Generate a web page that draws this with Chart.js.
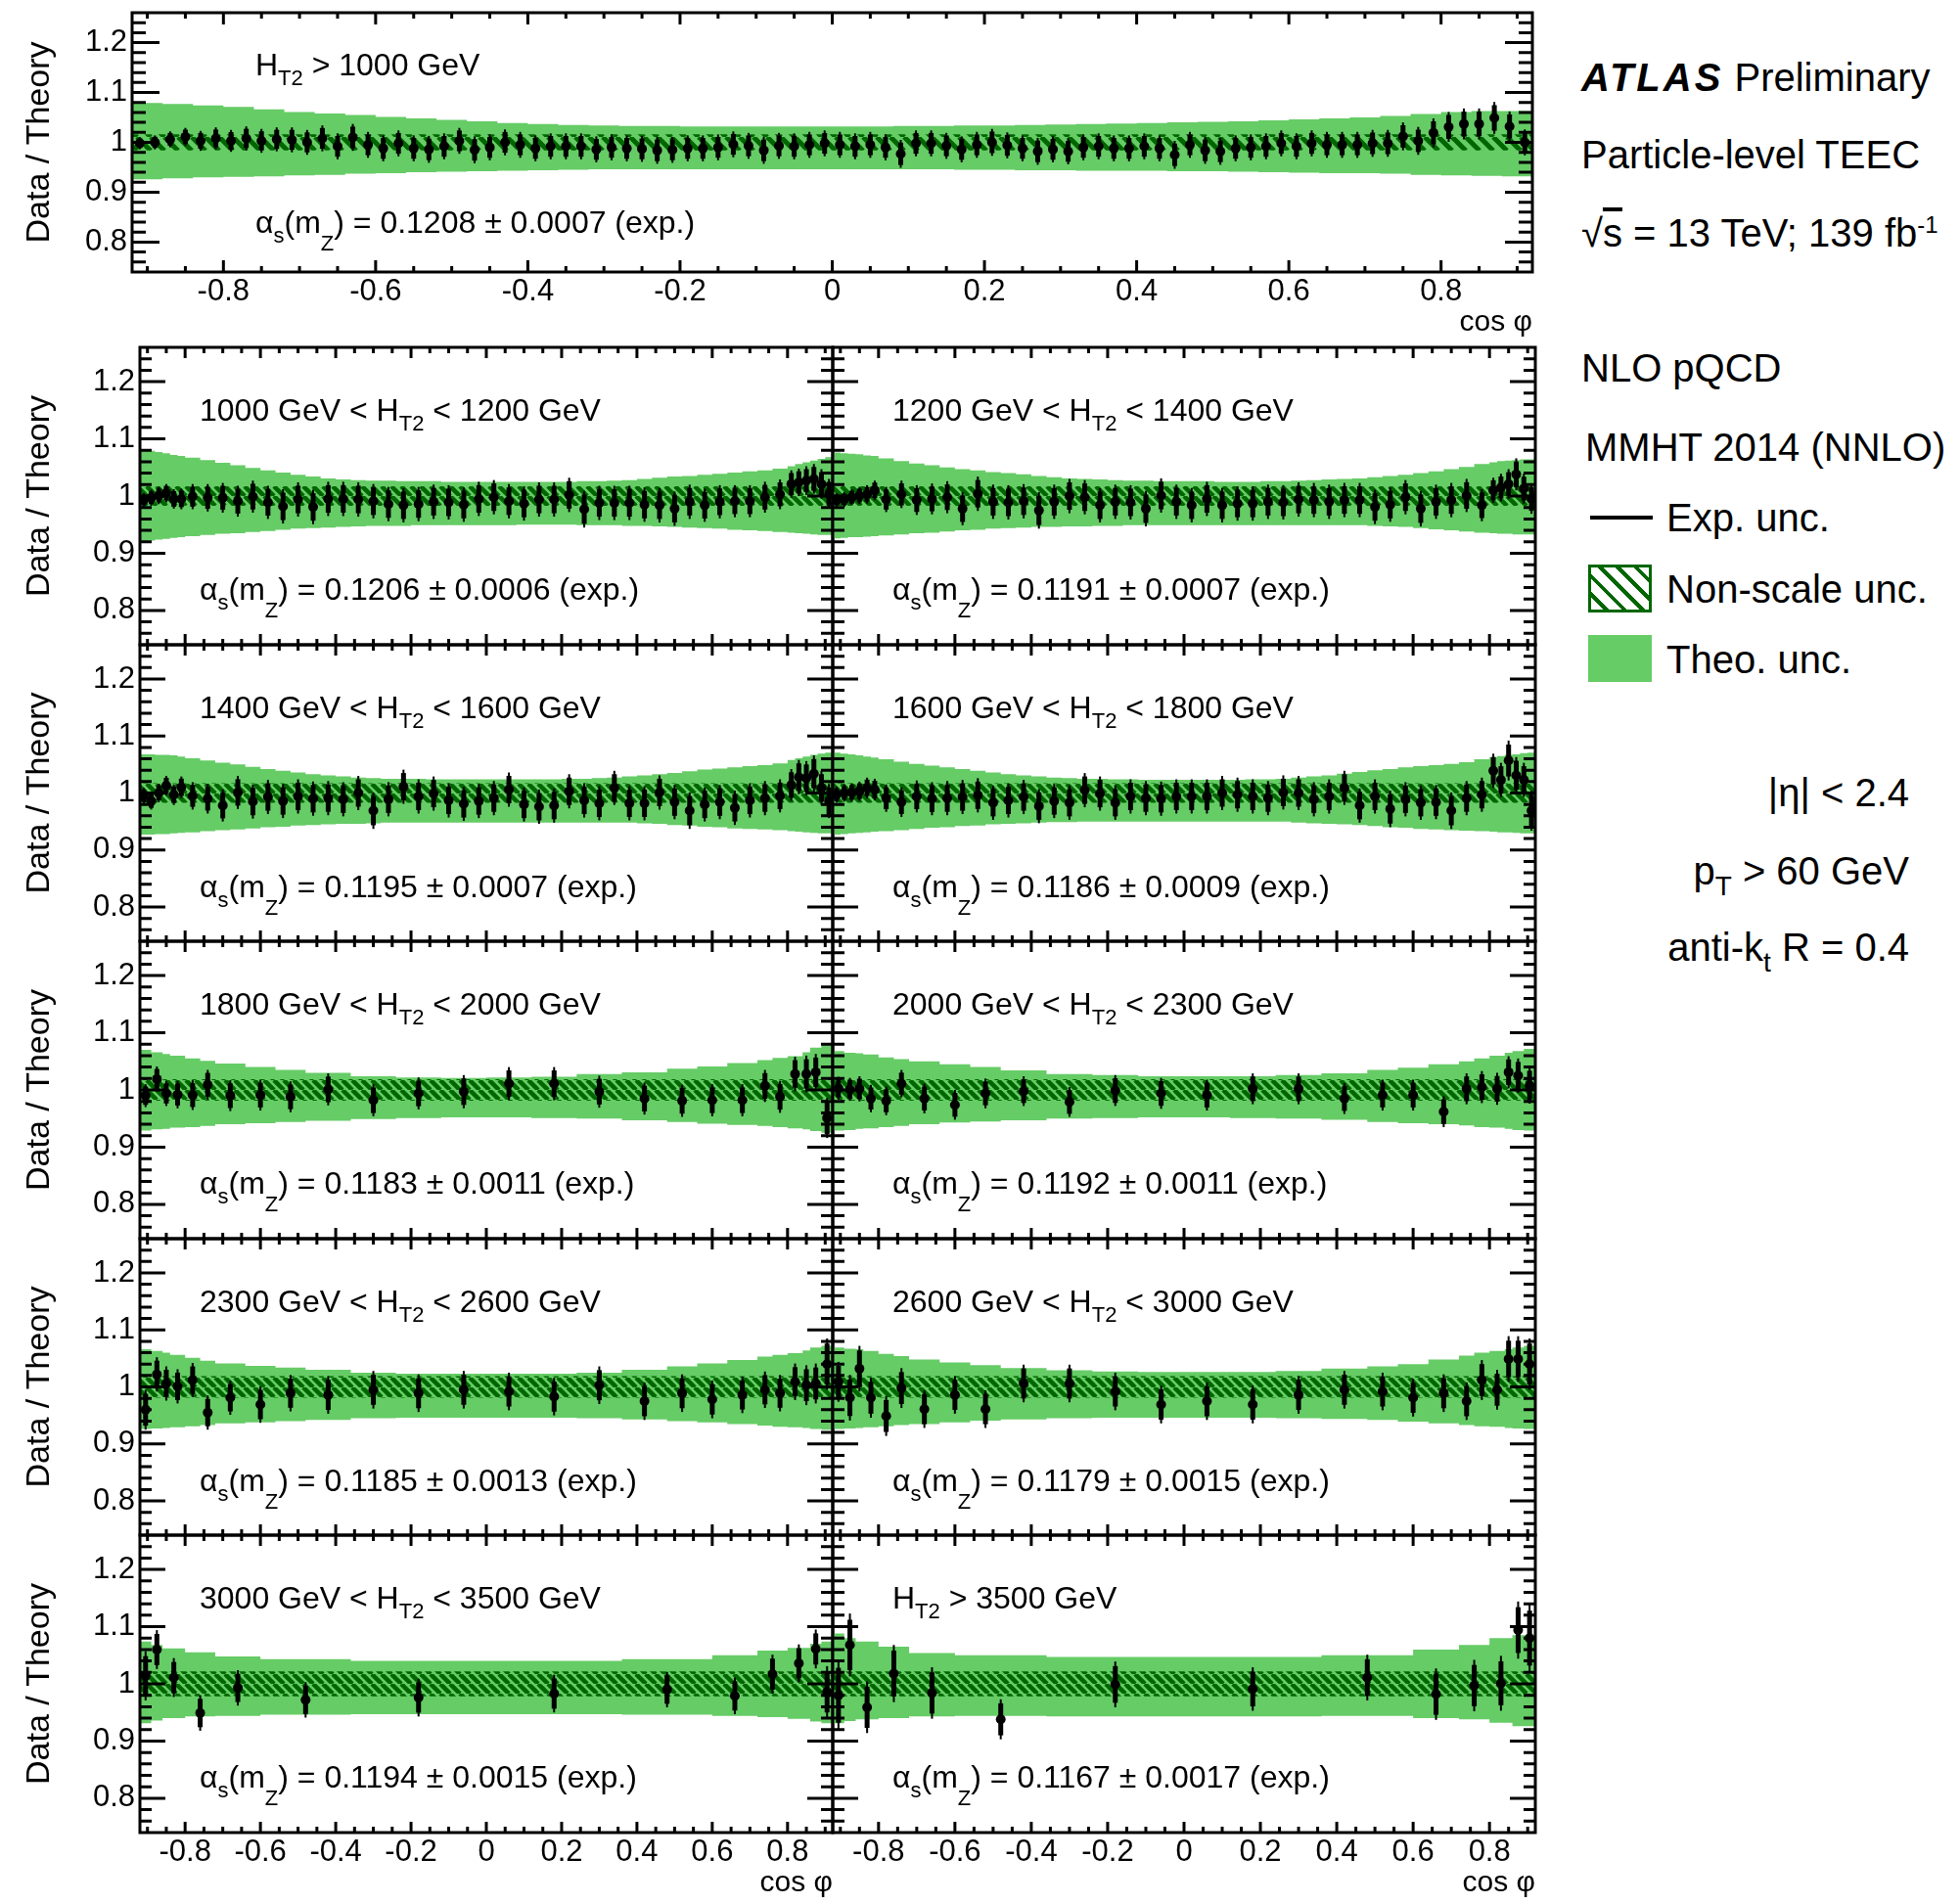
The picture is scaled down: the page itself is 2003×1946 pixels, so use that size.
<!DOCTYPE html>
<html>
<head>
<meta charset="utf-8">
<script src="https://cdn.jsdelivr.net/npm/chart.js@4.4.0/dist/chart.umd.min.js"></script>
<style>
  html, body { margin: 0; padding: 0; background: #fff; }
  body { width: 2003px; height: 1946px; position: relative; overflow: hidden;
         font-family: 'Liberation Sans', Arial, Helvetica, sans-serif; }
  canvas { position: absolute; }
  .txt { position: absolute; font-size: 40px; line-height: 40px; white-space: nowrap; color: #000; }
  .txt sub { font-size: 0.7em; vertical-align: -0.4em; line-height: 0; }
  .txt sup { font-size: 0.6em; vertical-align: 0.6em; line-height: 0; }
  .right { text-align: right; }
</style>
</head>
<body>

<div class="txt" style="left:1616px;top:59px"><b><i style="letter-spacing:3px">ATLAS</i></b> Preliminary</div>
<div class="txt" style="left:1616px;top:138px">Particle-level TEEC</div>
<div class="txt" style="left:1616px;top:218px">&radic;<span style="text-decoration:overline">s</span> = 13 TeV; 139 fb<sup>-1</sup></div>
<div class="txt" style="left:1616px;top:356px">NLO pQCD</div>
<div class="txt" style="left:1620px;top:437px">MMHT 2014 (NNLO)</div>

<div style="position:absolute;left:1625px;top:527px;width:64px;height:4px;background:#000"></div>
<div class="txt" style="left:1703px;top:509px">Exp. unc.</div>
<div style="position:absolute;left:1623px;top:577px;width:59px;height:43px;border:3px solid #006600;
  background:repeating-linear-gradient(45deg,#fff 0 9px,#006600 9px 13px)"></div>
<div class="txt" style="left:1703px;top:582px">Non-scale unc.</div>
<div style="position:absolute;left:1623px;top:649px;width:65px;height:48px;background:#66cc66"></div>
<div class="txt" style="left:1703px;top:654px">Theo. unc.</div>

<div class="txt right" style="right:52px;top:790px">|&eta;| &lt; 2.4</div>
<div class="txt right" style="right:52px;top:870px">p<sub>T</sub> &gt; 60 GeV</div>
<div class="txt right" style="right:52px;top:948px">anti-k<sub>t</sub> R = 0.4</div>

<script>
// axis ticks (labels)
const xTicks = [-0.8, -0.6, -0.4, -0.2, 0, 0.2, 0.4, 0.6, 0.8];
const yTicks = [0.8, 0.9, 1, 1.1, 1.2];

// cos phi bin edges
const edgesTop = [-0.92,-0.90,-0.88,-0.86,-0.84,-0.82,-0.80,-0.78,-0.76,-0.74,-0.72,-0.70,-0.68,-0.66,-0.64,-0.62,
  -0.60,-0.58,-0.56,-0.54,-0.52,-0.50,-0.48,-0.46,-0.44,-0.42,-0.40,-0.38,-0.36,-0.34,-0.32,-0.30,-0.28,-0.26,
  -0.24,-0.22,-0.20,-0.18,-0.16,-0.14,-0.12,-0.10,-0.08,-0.06,-0.04,-0.02,0,0.02,0.04,0.06,0.08,0.10,0.12,0.14,
  0.16,0.18,0.20,0.22,0.24,0.26,0.28,0.30,0.32,0.34,0.36,0.38,0.40,0.42,0.44,0.46,0.48,0.50,0.52,0.54,0.56,0.58,
  0.60,0.62,0.64,0.66,0.68,0.70,0.72,0.74,0.76,0.78,0.80,0.82,0.84,0.86,0.88,0.90,0.92];
const edgesTopBand = [-0.92,-0.88,-0.84,-0.80,-0.76,-0.72,-0.68,-0.64,-0.60,-0.56,-0.52,-0.48,-0.44,-0.40,-0.36,
  -0.32,-0.28,-0.24,-0.20,-0.16,-0.12,-0.08,-0.04,0,0.04,0.08,0.12,0.16,0.20,0.24,0.28,0.32,0.36,0.40,0.44,0.48,
  0.52,0.56,0.60,0.64,0.68,0.72,0.76,0.80,0.84,0.88,0.92];
const edgesFine = [-0.92,-0.90,-0.88,-0.86,-0.84,-0.82,-0.80,-0.76,-0.72,-0.68,-0.64,-0.60,-0.56,-0.52,-0.48,-0.44,
  -0.40,-0.36,-0.32,-0.28,-0.24,-0.20,-0.16,-0.12,-0.08,-0.04,0,0.04,0.08,0.12,0.16,0.20,0.24,0.28,0.32,0.36,0.40,
  0.44,0.48,0.52,0.56,0.60,0.64,0.68,0.72,0.76,0.80,0.82,0.84,0.86,0.88,0.90,0.92];
const edgesMid = [-0.92,-0.89,-0.86,-0.84,-0.80,-0.76,-0.72,-0.64,-0.56,-0.48,-0.36,-0.24,-0.12,0,
  0.12,0.24,0.36,0.48,0.56,0.64,0.72,0.76,0.80,0.84,0.86,0.89,0.92];
const edgesCoarse = [-0.92,-0.89,-0.86,-0.80,-0.72,-0.60,-0.36,0,0.36,0.60,0.72,0.80,0.86,0.89,0.92];

// HT2 > 1000 GeV
const ratioIncl = [0.998,1.000,1.006,1.011,1.003,1.008,1.003,1.008,1.003,1.006,1.005,1.000,1.008,0.992,1.010,0.995,
  0.988,0.998,0.988,0.986,0.992,1.003,0.985,0.990,1.000,0.995,0.988,0.992,0.992,0.992,0.986,0.990,0.988,0.987,0.984,0.985,
  0.988,0.988,0.990,0.996,0.993,0.984,0.993,0.992,0.995,0.998,
  0.995,0.992,0.995,0.990,0.977,0.998,0.998,0.993,0.986,0.995,
  1.000,0.994,0.988,0.982,0.986,0.982,0.990,0.992,0.988,0.988,
  0.992,0.988,0.975,0.995,0.984,0.982,0.988,0.990,0.992,0.998,
  0.992,0.998,0.995,0.995,0.995,0.998,0.998,1.012,1.003,1.019,
  1.031,1.037,1.037,1.049,1.032,1.000];
const errIncl = [0.012,0.014,0.016,0.018,0.020,0.022,0.022,0.024,0.024,0.024,0.025,0.025,0.026,0.026,0.027,0.026,
  0.026,0.026,0.026,0.027,0.026,0.026,0.027,0.026,0.026,0.026,0.026,0.026,0.026,0.026,0.026,0.026,0.026,0.026,0.027,0.026,
  0.026,0.026,0.026,0.026,0.026,0.027,0.026,0.026,0.026,0.026,
  0.026,0.026,0.026,0.026,0.028,0.026,0.026,0.026,0.026,0.026,
  0.027,0.026,0.026,0.027,0.026,0.026,0.026,0.026,0.026,0.026,
  0.026,0.026,0.028,0.026,0.027,0.027,0.026,0.026,0.026,0.026,
  0.026,0.026,0.026,0.026,0.026,0.027,0.027,0.028,0.028,0.029,
  0.030,0.031,0.031,0.032,0.030,0.026];
const upIncl = [1.079,1.077,1.074,1.071,1.066,1.061,1.058,1.055,1.051,1.048,1.045,1.042,1.039,1.037,1.035,1.034,
  1.033,1.033,1.032,1.032,1.032,1.032,1.032,1.032,1.032,1.033,1.033,1.034,1.034,1.035,1.036,1.037,1.038,1.039,
  1.040,1.041,1.042,1.044,1.046,1.048,1.050,1.053,1.057,1.061,1.063,1.063];
const dnIncl = [0.926,0.928,0.930,0.931,0.932,0.934,0.935,0.937,0.938,0.940,0.941,0.942,0.943,0.944,0.945,0.946,
  0.946,0.946,0.946,0.946,0.946,0.946,0.946,0.946,0.946,0.946,0.946,0.945,0.945,0.944,0.944,0.943,0.943,0.943,
  0.942,0.942,0.941,0.940,0.939,0.938,0.938,0.937,0.935,0.934,0.933,0.932];

// 1000 GeV < HT2 < 1200 GeV
const ratio1000 = [0.993,0.997,1.001,1.005,0.995,0.995,
  0.999,0.997,0.997,0.991,0.999,0.989,0.982,0.994,0.981,0.995,
  0.995,0.994,0.991,0.986,0.984,0.986,0.990,0.989,0.985,0.995,
  0.998,0.991,0.987,0.994,0.994,1.002,0.977,0.988,0.988,0.988,
  0.985,0.984,0.978,0.990,0.984,0.990,0.991,0.991,0.998,1.003,
  1.021,1.024,1.027,1.030,1.021,1.004];
const err1000 = [0.012,0.014,0.015,0.016,0.017,0.018,
  0.022,0.024,0.026,0.027,0.028,0.029,0.030,0.030,0.030,0.030,
  0.030,0.030,0.030,0.030,0.030,0.030,0.030,0.030,0.030,0.030,
  0.030,0.030,0.030,0.030,0.030,0.030,0.032,0.030,0.030,0.030,
  0.030,0.030,0.030,0.030,0.029,0.029,0.028,0.028,0.027,0.026,
  0.024,0.024,0.025,0.026,0.026,0.026];
const up1000 = [1.081,1.079,1.077,1.075,1.072,1.070,
  1.067,1.063,1.058,1.054,1.049,1.045,1.041,1.037,1.034,1.031,
  1.029,1.028,1.027,1.027,1.026,1.026,1.026,1.025,1.025,1.025,
  1.025,1.025,1.025,1.025,1.025,1.025,1.026,1.026,1.027,1.028,
  1.030,1.032,1.034,1.035,1.037,1.039,1.041,1.043,1.045,1.048,
  1.052,1.056,1.059,1.062,1.065,1.068];
const dn1000 = [0.921,0.922,0.924,0.925,0.927,0.928,
  0.930,0.932,0.934,0.935,0.937,0.939,0.941,0.943,0.944,0.945,
  0.946,0.947,0.948,0.948,0.948,0.949,0.949,0.949,0.949,0.949,
  0.949,0.949,0.950,0.950,0.950,0.950,0.949,0.949,0.949,0.948,
  0.948,0.947,0.946,0.945,0.944,0.943,0.941,0.940,0.939,0.937,
  0.936,0.935,0.934,0.933,0.932,0.932];

// 1200 GeV < HT2 < 1400 GeV
const ratio1200 = [0.993,0.994,0.998,1.001,1.003,1.010,
  0.994,1.003,0.993,0.995,0.998,0.978,1.004,0.990,0.989,0.991,
  0.975,0.990,1.000,0.998,0.984,0.990,0.989,0.978,1.001,0.990,
  0.984,0.995,0.984,0.987,0.987,0.990,0.989,0.994,0.993,0.990,
  0.993,0.993,0.981,0.985,0.998,0.978,0.990,0.993,1.001,0.984,
  1.010,1.015,1.021,1.038,1.013,0.995];
const err1200 = [0.012,0.013,0.014,0.015,0.016,0.017,
  0.022,0.024,0.026,0.027,0.028,0.029,0.030,0.030,0.030,0.030,
  0.032,0.030,0.030,0.030,0.030,0.030,0.030,0.031,0.030,0.030,
  0.030,0.030,0.030,0.030,0.030,0.030,0.030,0.030,0.030,0.030,
  0.030,0.030,0.030,0.030,0.030,0.031,0.030,0.030,0.029,0.028,
  0.022,0.024,0.026,0.028,0.026,0.026];
const up1200 = [1.076,1.075,1.074,1.073,1.071,1.070,
  1.066,1.061,1.057,1.054,1.050,1.047,1.045,1.042,1.040,1.038,
  1.035,1.033,1.031,1.030,1.029,1.028,1.027,1.027,1.026,1.026,
  1.026,1.026,1.025,1.025,1.025,1.026,1.026,1.027,1.028,1.029,
  1.030,1.031,1.033,1.035,1.037,1.040,1.043,1.047,1.051,1.056,
  1.059,1.061,1.062,1.063,1.064,1.064];
const dn1200 = [0.926,0.927,0.928,0.928,0.929,0.930,
  0.931,0.933,0.935,0.936,0.938,0.940,0.941,0.943,0.944,0.945,
  0.946,0.946,0.947,0.947,0.948,0.948,0.949,0.949,0.949,0.949,
  0.949,0.949,0.949,0.949,0.949,0.949,0.949,0.949,0.949,0.949,
  0.949,0.949,0.948,0.947,0.946,0.944,0.942,0.940,0.938,0.936,
  0.935,0.934,0.934,0.933,0.933,0.933];

// 1400 GeV < HT2 < 1600 GeV
const ratio1400 = [0.995,0.986,1.000,1.013,0.997,1.010,
  0.995,0.990,0.978,1.001,0.985,0.993,0.986,0.994,0.990,0.991,
  0.989,1.000,0.969,0.989,1.011,0.994,0.999,0.987,0.981,0.986,
  0.991,1.006,0.980,0.976,0.978,1.003,0.987,0.982,1.009,0.982,
  0.982,1.001,0.984,0.969,0.980,0.984,0.974,0.987,0.991,0.995,
  1.014,1.028,1.026,1.034,1.009,0.986];
const err1400 = [0.014,0.015,0.016,0.017,0.018,0.019,
  0.024,0.026,0.028,0.029,0.030,0.030,0.030,0.030,0.030,0.030,
  0.030,0.030,0.032,0.030,0.030,0.030,0.030,0.030,0.030,0.030,
  0.030,0.030,0.030,0.030,0.030,0.030,0.030,0.030,0.030,0.030,
  0.030,0.030,0.030,0.032,0.030,0.030,0.030,0.030,0.030,0.029,
  0.028,0.030,0.030,0.032,0.030,0.030];
const up1400 = [1.068,1.068,1.067,1.067,1.066,1.064,
  1.061,1.057,1.053,1.050,1.046,1.042,1.039,1.036,1.033,1.031,
  1.029,1.027,1.026,1.025,1.025,1.025,1.024,1.024,1.024,1.024,
  1.024,1.024,1.024,1.024,1.024,1.025,1.025,1.026,1.027,1.029,
  1.031,1.033,1.035,1.038,1.041,1.043,1.045,1.047,1.049,1.052,
  1.058,1.061,1.064,1.067,1.069,1.071];
const dn1400 = [0.927,0.927,0.928,0.928,0.929,0.930,
  0.931,0.933,0.935,0.936,0.938,0.940,0.941,0.943,0.944,0.945,
  0.946,0.946,0.947,0.948,0.948,0.948,0.948,0.948,0.948,0.948,
  0.948,0.948,0.948,0.948,0.948,0.948,0.948,0.948,0.948,0.948,
  0.947,0.946,0.944,0.943,0.941,0.940,0.938,0.937,0.936,0.935,
  0.933,0.932,0.931,0.930,0.929,0.929];

// 1600 GeV < HT2 < 1800 GeV
const ratio1600 = [0.997,1.000,1.001,1.003,1.009,1.006,
  0.991,0.984,0.994,0.990,0.991,0.993,0.996,0.983,0.987,0.993,
  0.977,0.986,0.983,1.005,0.999,0.983,0.994,0.991,0.990,0.994,
  0.994,0.994,1.000,0.997,0.994,0.991,1.001,1.000,0.989,0.994,
  1.009,0.978,0.994,0.972,0.989,0.983,0.984,0.969,0.991,0.997,
  1.039,1.023,1.057,1.031,1.023,0.969];
const err1600 = [0.014,0.015,0.016,0.017,0.018,0.019,
  0.024,0.026,0.028,0.029,0.030,0.030,0.030,0.030,0.030,0.030,
  0.030,0.030,0.030,0.030,0.030,0.030,0.030,0.030,0.030,0.030,
  0.030,0.030,0.030,0.030,0.030,0.030,0.030,0.030,0.030,0.030,
  0.030,0.030,0.030,0.032,0.030,0.030,0.030,0.032,0.030,0.030,
  0.030,0.030,0.035,0.032,0.030,0.035];
const up1600 = [1.071,1.069,1.068,1.066,1.064,1.062,
  1.059,1.055,1.051,1.048,1.045,1.042,1.039,1.036,1.033,1.031,
  1.029,1.027,1.026,1.025,1.025,1.024,1.024,1.023,1.023,1.023,
  1.023,1.023,1.023,1.023,1.024,1.024,1.025,1.027,1.029,1.031,
  1.034,1.037,1.040,1.042,1.045,1.047,1.049,1.051,1.054,1.059,
  1.063,1.065,1.067,1.068,1.070,1.071];
const dn1600 = [0.927,0.928,0.929,0.930,0.931,0.932,
  0.933,0.935,0.937,0.939,0.940,0.942,0.943,0.945,0.946,0.947,
  0.948,0.949,0.949,0.950,0.950,0.950,0.950,0.950,0.950,0.950,
  0.950,0.950,0.950,0.950,0.950,0.950,0.950,0.948,0.947,0.946,
  0.945,0.944,0.942,0.940,0.939,0.937,0.936,0.935,0.934,0.933,
  0.932,0.931,0.931,0.930,0.929,0.929];

// 1800 GeV < HT2 < 2000 GeV
const ratio1800 = [0.990,1.019,0.994,0.992,0.991,1.009,0.990,0.991,0.988,1.001,0.982,0.994,0.997,
  1.011,1.011,0.997,0.985,0.981,0.982,0.982,1.007,0.988,1.028,1.028,1.031,0.951];
const err1800 = [0.020,0.022,0.022,0.024,0.026,0.026,0.027,0.027,0.027,0.028,0.028,0.028,0.029,
  0.029,0.029,0.028,0.028,0.028,0.028,0.028,0.028,0.028,0.030,0.032,0.032,0.035];
const up1800 = [1.070,1.066,1.063,1.060,1.055,1.051,1.046,1.040,1.035,1.030,1.024,1.022,1.021,
  1.022,1.023,1.028,1.031,1.037,1.041,1.047,1.052,1.056,1.059,1.066,1.074,1.082];
const dn1800 = [0.929,0.931,0.932,0.934,0.935,0.937,0.940,0.942,0.944,0.946,0.949,0.951,0.952,
  0.952,0.951,0.950,0.947,0.944,0.941,0.939,0.937,0.935,0.933,0.931,0.928,0.925];

// 2000 GeV < HT2 < 2300 GeV
const ratio2000 = [1.003,1.001,1.002,0.985,0.981,1.011,0.985,0.974,0.994,0.998,0.979,0.999,0.994,
  0.991,1.002,1.002,0.985,0.991,0.991,0.962,1.002,1.005,1.002,1.031,1.025,1.008];
const err2000 = [0.020,0.020,0.022,0.024,0.025,0.024,0.026,0.026,0.026,0.026,0.026,0.027,0.027,
  0.027,0.027,0.027,0.027,0.027,0.027,0.027,0.027,0.028,0.028,0.028,0.030,0.032];
const up2000 = [1.068,1.065,1.064,1.062,1.057,1.054,1.050,1.045,1.040,1.034,1.028,1.026,1.024,
  1.024,1.024,1.026,1.029,1.035,1.039,1.045,1.050,1.055,1.060,1.065,1.068,1.072];
const dn2000 = [0.929,0.930,0.932,0.933,0.935,0.937,0.940,0.943,0.945,0.947,0.950,0.951,0.952,
  0.952,0.951,0.950,0.948,0.944,0.942,0.940,0.938,0.935,0.934,0.932,0.930,0.929];

// 2300 GeV < HT2 < 2600 GeV
const ratio2300 = [0.960,1.022,1.006,1.001,1.012,0.955,0.981,0.969,0.989,0.986,0.995,0.989,0.995,
  0.992,0.983,1.003,0.975,0.989,0.978,0.986,0.995,0.989,1.009,1.003,1.006,1.040];
const err2300 = [0.035,0.030,0.030,0.030,0.030,0.030,0.030,0.032,0.032,0.033,0.033,0.033,0.033,
  0.033,0.033,0.033,0.033,0.033,0.033,0.032,0.032,0.032,0.032,0.035,0.035,0.045];
const up2300 = [1.066,1.063,1.060,1.056,1.051,1.046,1.041,1.037,1.034,1.030,1.025,1.023,1.023,
  1.023,1.023,1.025,1.030,1.036,1.041,1.047,1.053,1.056,1.059,1.064,1.069,1.072];
const dn2300 = [0.926,0.927,0.928,0.929,0.931,0.933,0.936,0.938,0.940,0.942,0.945,0.946,0.946,
  0.946,0.946,0.945,0.943,0.940,0.938,0.935,0.932,0.930,0.929,0.928,0.926,0.925];

// 2600 GeV < HT2 < 3000 GeV
const ratio2600 = [1.009,0.981,1.032,0.981,0.949,0.998,0.961,0.986,0.961,1.006,1.006,0.992,0.969,
  0.975,0.969,0.986,0.995,0.992,0.981,0.989,0.975,1.012,0.995,1.049,1.049,1.040];
const err2600 = [0.035,0.040,0.040,0.035,0.035,0.035,0.033,0.033,0.033,0.033,0.033,0.033,0.033,
  0.033,0.033,0.033,0.033,0.033,0.033,0.033,0.033,0.035,0.035,0.040,0.040,0.045];
const up2600 = [1.069,1.067,1.066,1.063,1.058,1.054,1.048,1.043,1.038,1.033,1.029,1.027,1.026,
  1.026,1.026,1.028,1.032,1.036,1.040,1.048,1.055,1.060,1.063,1.066,1.069,1.072];
const dn2600 = [0.926,0.927,0.928,0.929,0.931,0.933,0.935,0.938,0.941,0.943,0.945,0.946,0.946,
  0.946,0.946,0.945,0.944,0.942,0.939,0.936,0.933,0.931,0.930,0.928,0.927,0.926];

// 3000 GeV < HT2 < 3500 GeV
const ratio3000 = [1.014,1.060,1.011,0.949,0.993,0.972,0.976,0.983,0.990,0.979,1.017,1.036,1.061,0.986];
const err3000 = [0.043,0.034,0.034,0.031,0.031,0.031,0.033,0.033,0.031,0.032,0.034,0.033,0.034,0.045];
const up3000 = [1.074,1.068,1.062,1.055,1.048,1.043,1.040,1.040,1.043,1.050,1.058,1.063,1.070,1.074];
const dn3000 = [0.931,0.936,0.940,0.943,0.944,0.946,0.947,0.947,0.946,0.944,0.942,0.939,0.934,0.931];

// HT2 > 3500 GeV
const ratio3500 = [0.980,1.068,0.959,1.018,0.984,0.938,0.999,0.991,1.011,0.982,0.997,1.001,1.094,1.080];
const err3500 = [0.060,0.055,0.045,0.050,0.045,0.035,0.040,0.038,0.040,0.045,0.045,0.048,0.050,0.060];
const up3500 = [1.088,1.080,1.074,1.065,1.054,1.050,1.047,1.047,1.050,1.060,1.068,1.080,1.085,1.085];
const dn3500 = [0.931,0.935,0.938,0.940,0.943,0.944,0.943,0.943,0.944,0.940,0.938,0.932,0.926,0.926];

// non-scale half width per panel (top, then grid rows left/right)
const nonScale = [0.016, 0.017, 0.017, 0.017, 0.017, 0.019, 0.019, 0.019, 0.019, 0.022, 0.022];

const panelLabels = ['H_{T2} > 1000 GeV',
  '1000 GeV < H_{T2} < 1200 GeV', '1200 GeV < H_{T2} < 1400 GeV',
  '1400 GeV < H_{T2} < 1600 GeV', '1600 GeV < H_{T2} < 1800 GeV',
  '1800 GeV < H_{T2} < 2000 GeV', '2000 GeV < H_{T2} < 2300 GeV',
  '2300 GeV < H_{T2} < 2600 GeV', '2600 GeV < H_{T2} < 3000 GeV',
  '3000 GeV < H_{T2} < 3500 GeV', 'H_{T2} > 3500 GeV'];
const alphaValues = ['0.1208 ± 0.0007', '0.1206 ± 0.0006', '0.1191 ± 0.0007', '0.1195 ± 0.0007',
  '0.1186 ± 0.0009', '0.1183 ± 0.0011', '0.1192 ± 0.0011', '0.1185 ± 0.0013', '0.1179 ± 0.0015',
  '0.1194 ± 0.0015', '0.1167 ± 0.0017'];

// ---------------------------------------------------------------------------
const FAM = "'Liberation Sans', Arial, Helvetica, sans-serif";
const GREEN = '#66cc66';
const DARK = '#006600';
const X_MIN = -0.92, X_MAX = 0.92, Y_MIN = 0.74, Y_MAX = 1.26;

Chart.defaults.font.family = FAM;
Chart.defaults.color = '#000';

const xMinor = [];
for (let k = -18; k <= 18; k++) xMinor.push(k * 0.05);
const yMinor = [];
for (let k = 38; k <= 62; k++) yMinor.push(k * 0.02);

const fmt = v => String(Math.round(v * 10) / 10);

function stepPoints(edges, vals) {
  const pts = vals.map((v, i) => ({ x: edges[i], y: v }));
  pts.push({ x: edges[edges.length - 1], y: vals[vals.length - 1] });
  return pts;
}
function centerPoints(edges, vals) {
  return vals.map((v, i) => ({ x: (edges[i] + edges[i + 1]) / 2, y: v }));
}

function hatch(period, width) {
  const c = document.createElement('canvas');
  c.width = c.height = period;
  const g = c.getContext('2d');
  g.strokeStyle = DARK;
  g.lineWidth = width;
  g.beginPath();
  for (const k of [-period, 0, period]) { g.moveTo(k, 0); g.lineTo(k + period, period); }
  g.stroke();
  return g.createPattern(c, 'repeat');
}

// text with _{sub}, __{deep sub}, ^{sup}
function richText(ctx, x, y, str, size) {
  const re = /(__|_|\^)\{([^}]*)\}/g;
  let last = 0, m, cx = x;
  const put = (t, s, dy) => {
    ctx.font = s + 'px ' + FAM;
    ctx.fillText(t, cx, y + dy);
    cx += ctx.measureText(t).width;
  };
  while ((m = re.exec(str))) {
    if (m.index > last) put(str.slice(last, m.index), size, 0);
    const dy = m[1] === '__' ? size * 0.55 : m[1] === '_' ? size * 0.3 : -size * 0.45;
    put(m[2], Math.round(size * 0.7), dy);
    last = re.lastIndex;
  }
  if (last < str.length) put(str.slice(last), size, 0);
}

function decor(p) {
  return {
    id: 'decor',
    afterDatasetsDraw(chart) {
      const { ctx, scales: { y } } = chart;
      const meta = chart.getDatasetMeta(0);
      ctx.save();
      ctx.strokeStyle = '#000';
      ctx.lineCap = 'butt';
      meta.data.forEach((pt, i) => {
        const v = p.ratio[i], e = p.err[i];
        ctx.lineWidth = 2;
        ctx.beginPath();
        ctx.moveTo(pt.x, y.getPixelForValue(v - e));
        ctx.lineTo(pt.x, y.getPixelForValue(v + e));
        ctx.stroke();
        ctx.lineWidth = 5;
        ctx.beginPath();
        ctx.moveTo(pt.x, y.getPixelForValue(v - 0.8 * e));
        ctx.lineTo(pt.x, y.getPixelForValue(v + 0.8 * e));
        ctx.stroke();
      });
      ctx.restore();
    },
    afterDraw(chart) {
      const { ctx, chartArea: a, scales: { x, y } } = chart;
      ctx.save();
      ctx.strokeStyle = '#000';
      ctx.lineWidth = 3;
      ctx.strokeRect(a.left, a.top, a.right - a.left, a.bottom - a.top);
      ctx.beginPath();
      for (const v of xMinor) {
        const major = xTicks.some(t => Math.abs(t - v) < 1e-6);
        const len = major ? p.tk.xMaj : p.tk.xMin;
        const px = x.getPixelForValue(v);
        ctx.moveTo(px, a.bottom); ctx.lineTo(px, a.bottom - len);
        ctx.moveTo(px, a.top); ctx.lineTo(px, a.top + len);
      }
      for (const v of yMinor) {
        const major = yTicks.some(t => Math.abs(t - v) < 1e-6);
        const len = major ? p.tk.yMaj : p.tk.yMin;
        const py = y.getPixelForValue(v);
        ctx.moveTo(a.left, py); ctx.lineTo(a.left + len, py);
        ctx.moveTo(a.right, py); ctx.lineTo(a.right - len, py);
      }
      ctx.stroke();
      ctx.fillStyle = '#000';
      ctx.textBaseline = 'alphabetic';
      ctx.textAlign = 'left';
      richText(ctx, a.left + p.txtDx, a.top + p.labDy, p.label, 32);
      richText(ctx, a.left + p.txtDx, a.top + p.alphaDy, 'α_{s}(m__{Z}) = ' + p.alpha + ' (exp.)', 32);
      ctx.restore();
    }
  };
}

function buildPanel(p) {
  const cv = document.createElement('canvas');
  cv.width = p.cw; cv.height = p.ch;
  cv.style.left = p.cx + 'px';
  cv.style.top = p.cy + 'px';
  document.body.appendChild(cv);
  const yW = p.L - p.cx;
  const xH = p.cy + p.ch - p.B;
  const clear = 'rgba(0,0,0,0)';
  new Chart(cv.getContext('2d'), {
    type: 'line',
    data: {
      datasets: [
        { data: centerPoints(p.edges, p.ratio), showLine: false, pointRadius: 5, pointHoverRadius: 5,
          pointBackgroundColor: '#000', pointBorderColor: '#000', pointBorderWidth: 0, fill: false },
        { data: [{ x: X_MIN, y: 1 + p.ns }, { x: X_MAX, y: 1 + p.ns }], borderColor: clear, borderWidth: 0,
          pointRadius: 0, fill: '+1', backgroundColor: hatch(p.hatchP, p.hatchW) },
        { data: [{ x: X_MIN, y: 1 - p.ns }, { x: X_MAX, y: 1 - p.ns }], borderColor: clear, borderWidth: 0,
          pointRadius: 0, fill: false },
        { data: stepPoints(p.bandEdges, p.up), stepped: true, borderColor: clear, borderWidth: 0,
          pointRadius: 0, fill: '+1', backgroundColor: GREEN },
        { data: stepPoints(p.bandEdges, p.dn), stepped: true, borderColor: clear, borderWidth: 0,
          pointRadius: 0, fill: false }
      ]
    },
    options: {
      responsive: false, animation: false, devicePixelRatio: 1, events: [],
      layout: { autoPadding: false,
        padding: { left: 0, top: p.T - p.cy, right: p.cx + p.cw - p.R, bottom: 0 } },
      plugins: { legend: { display: false }, tooltip: { enabled: false } },
      scales: {
        x: {
          type: 'linear', min: X_MIN, max: X_MAX,
          afterBuildTicks: s => { s.ticks = xTicks.map(v => ({ value: v })); },
          afterFit: s => { s.height = xH; s.paddingLeft = 0; s.paddingRight = 0; s.paddingTop = 0; s.paddingBottom = 0; },
          grid: { display: false, drawTicks: false }, border: { display: false },
          ticks: { display: p.xLab, padding: 2, font: { size: 31 }, callback: fmt, maxRotation: 0, autoSkip: false },
          title: { display: p.xLab, text: 'cos φ', align: 'end', font: { size: 30 },
                   padding: { top: 0, bottom: p.xTitlePad } }
        },
        y: {
          type: 'linear', min: Y_MIN, max: Y_MAX,
          afterBuildTicks: s => { s.ticks = yTicks.map(v => ({ value: v })); },
          afterFit: s => { s.width = yW; s.paddingLeft = 0; s.paddingRight = 0; s.paddingTop = 0; s.paddingBottom = 0; },
          grid: { display: false, drawTicks: false }, border: { display: false },
          ticks: { display: p.yLab, padding: 5, font: { size: 31 }, callback: fmt, autoSkip: false },
          title: { display: p.yLab, text: 'Data / Theory', font: { size: 34 },
                   padding: { top: 20, bottom: 0 } }
        }
      }
    },
    plugins: [decor(p)]
  });
}

// layout
const rowTops = [355, 659, 962, 1266, 1569, 1873];
const gridData = [
  [edgesFine, ratio1000, err1000, up1000, dn1000], [edgesFine, ratio1200, err1200, up1200, dn1200],
  [edgesFine, ratio1400, err1400, up1400, dn1400], [edgesFine, ratio1600, err1600, up1600, dn1600],
  [edgesMid, ratio1800, err1800, up1800, dn1800], [edgesMid, ratio2000, err2000, up2000, dn2000],
  [edgesMid, ratio2300, err2300, up2300, dn2300], [edgesMid, ratio2600, err2600, up2600, dn2600],
  [edgesCoarse, ratio3000, err3000, up3000, dn3000], [edgesCoarse, ratio3500, err3500, up3500, dn3500]
];

buildPanel({
  edges: edgesTop, bandEdges: edgesTopBand, ratio: ratioIncl, err: errIncl, up: upIncl, dn: dnIncl,
  ns: nonScale[0], label: panelLabels[0], alpha: alphaValues[0],
  L: 135, T: 13, R: 1566, B: 278, cx: 0, cy: 0, cw: 1574, ch: 348,
  xLab: true, yLab: true, xTitlePad: 0, hatchP: 14, hatchW: 5,
  tk: { xMaj: 12, xMin: 6, yMaj: 28, yMin: 14 }, txtDx: 126, labDy: 64, alphaDy: 225
});

gridData.forEach((d, i) => {
  const row = Math.floor(i / 2), col = i % 2;
  const T = rowTops[row], B = rowTops[row + 1];
  const last = row === 4;
  const L = col === 0 ? 143 : 851, R = col === 0 ? 851 : 1569;
  const cx = col === 0 ? 0 : 840, cw = col === 0 ? 860 : 738;
  const cy = T - 8, ch = last ? 1946 - cy : B + 8 - cy;
  buildPanel({
    edges: d[0], bandEdges: d[0], ratio: d[1], err: d[2], up: d[3], dn: d[4],
    ns: nonScale[i + 1], label: panelLabels[i + 1], alpha: alphaValues[i + 1],
    L, T, R, B, cx, cy, cw, ch,
    xLab: last, yLab: col === 0, xTitlePad: 3, hatchP: 10, hatchW: 4.5,
    tk: { xMaj: 11, xMin: 6, yMaj: 26, yMin: 12 }, txtDx: 61, labDy: 75, alphaDy: 258
  });
});
</script>
</body>
</html>
